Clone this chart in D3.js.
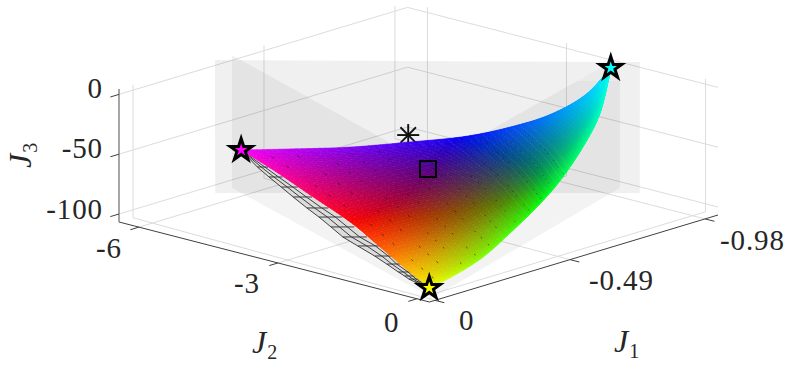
<!DOCTYPE html>
<html><head><meta charset="utf-8"><style>html,body{margin:0;background:#fff}svg{display:block}text{font-family:"Liberation Serif",serif;fill:#262626}</style></head>
<body><script src="https://cdn.jsdelivr.net/npm/d3@7"></script>
<svg id="chart" width="793" height="375"></svg>
<script>
// ---- axes ----
const j1Ticks=[0,-0.49,-0.98], j1Labels=["0","-0.49","-0.98"];
const j2Ticks=[0,-3,-6], j2Labels=["0","-3","-6"];
const j3Ticks=[0,-50,-100], j3Labels=["0","-50","-100"];
// ---- surface boundary (J1, J2, J3) ----
const topJ1=[-0.191,-0.237,-0.307,-0.398,-0.482,-0.574,-0.676,-0.816,-0.989];
const topJ2=[-5.17,-4.36,-3.46,-2.68,-1.98,-1.54,-1.28,-1.35,-1.82];
const topJ3=[-50,-44,-38,-32,-26,-20,-14,-8,-2];
const rightJ1=[-0.002,-0.038,-0.109,-0.217,-0.337,-0.450,-0.615,-0.771,-0.989];
const rightJ2=[0.13,0.48,0.67,0.61,0.47,0.29,-0.20,-0.76,-1.82];
const rightJ3=[-98,-86,-74,-62,-50,-38,-26,-14,-2];
const leftJ1=[-0.191,-0.172,-0.137,-0.102,-0.056,-0.026,-0.002];
const leftJ2=[-5.17,-4.28,-3.26,-2.23,-1.29,-0.56,0.13];
const leftJ3=[-50,-58,-66,-74,-82,-90,-98];
// ---- wire strip below the surface ----
const stripJ3=[-60,-62,-64,-66,-68,-70,-72,-74,-76,-78,-80,-82,-84,-86,-88];
const stripLowJ1=[-0.187,-0.158,-0.130,-0.102,-0.071,-0.049,-0.022,0.006,0.022,0.041,0.056,0.071,0.070,0.067,0.060];
const stripLowJ2=[-4.79,-4.36,-3.92,-3.49,-3.00,-2.60,-2.17,-1.74,-1.31,-0.82,-0.46,-0.11,0.02,0.10,0.19];
const stripUpJ1=[-0.205,-0.182,-0.159,-0.135,-0.108,-0.090,-0.063,-0.036,-0.022,0.008,0.031,0.047,0.051,0.049,0.044];
const stripUpJ2=[-4.66,-4.20,-3.73,-3.27,-2.75,-2.33,-1.90,-1.46,-1.02,-0.59,-0.30,0.05,0.16,0.22,0.30];
// ---- translucent planes ----
const planeA=[[-0.421,-7.10,-10],[-1.140,-2.08,-10],[-0.909,-0.72,-90],[-0.177,-5.66,-90]];
const planeB=[[-0.445,-6.87,-5],[-0.497,-2.79,-60],[0.071,0.57,-95],[-0.006,-4.27,-60]];
const planeC=[[-0.948,-2.31,-15],[-1.021,-1.81,-15],[-0.676,0.24,-60],[0.074,0.59,-98],[-0.498,-2.87,-60]];
const planeCcap=[[-0.948,-2.31,-15],[-1.021,-1.81,-15],[-1.100,-2.27,-5]];
// ---- markers ----
const asteriskPoint=[-0.424,-2.88,-30];
const squarePoint=[-0.316,-1.80,-40];

// ---- projection through d3 scales ----
const uS=d3.scaleLinear().domain([0.02,-1.027]).range([0,1]);
const vS=d3.scaleLinear().domain([0.27,-6.43]).range([0,1]);
const wS=d3.scaleLinear().domain([-106.7,4.5]).range([0,1]);
const xAcrossJ1=d3.scaleLinear().domain([0,1]).range([0,288.5]), yAcrossJ1=d3.scaleLinear().domain([0,1]).range([0,-87]);
const xAcrossJ2=d3.scaleLinear().domain([0,1]).range([0,-310.5]), yAcrossJ2=d3.scaleLinear().domain([0,1]).range([0,-80]);
const lift=d3.scaleLinear().domain([0,1]).range([0,-133]);
const ox=429.5, oy=302, persp=0.03;
const raw=(up,v,w)=>[ox+xAcrossJ1(up)+xAcrossJ2(v), oy+yAcrossJ1(up)+yAcrossJ2(v)+lift(w)];
const warp=(u,v)=>u+persp*v*(1-u);
const P=(a,b,c)=>{const v=vS(b);return raw(warp(uS(a),v),v,wS(c));};

const svg=d3.select("#chart");
const lineGen=d3.line();
const gridCol="#dcdcdc";
const grid=svg.append("g").attr("fill","none").attr("stroke",gridCol).attr("stroke-width",1);
const seg=(g,p,q)=>g.append("path").attr("d",lineGen([p,q]));
j3Ticks.forEach(z=>{const w=wS(z);seg(grid,raw(0,1,w),raw(1,1,w));seg(grid,raw(1,1,w),raw(1,0,w));});
j1Ticks.forEach(a=>{const u=uS(a);seg(grid,raw(warp(u,1),1,0),raw(warp(u,1),1,1));seg(grid,raw(warp(u,0),0,0),raw(warp(u,1),1,0));});
j2Ticks.forEach(b=>{const v=vS(b);seg(grid,raw(1,v,0),raw(1,v,1));seg(grid,raw(0,v,0),raw(1,v,0));});

// translucent planes
const poly=d3.line().curve(d3.curveLinearClosed);
const plane=(pts,op)=>svg.append("path").attr("d",poly(pts.map(p=>P(...p)))).attr("fill","#000").attr("fill-opacity",op);
plane(planeA,0.058);plane(planeB,0.048);plane(planeC,0.048);plane(planeCcap,0.022);

// axes
const ax=svg.append("g").attr("fill","none").attr("stroke","#404040").attr("stroke-width",1);
seg(ax,raw(0,0,0),raw(0,1,0));
seg(ax,raw(0,0,0),raw(1,0,0));
seg(ax,raw(0,1,0),raw(0,1,1)).attr("stroke","#808080").attr("stroke-width",1.4);
const T=.03;
j3Ticks.forEach(z=>{const w=wS(z);seg(ax,raw(0,1,w),raw(-T,1,w));});
j2Ticks.forEach(b=>{const v=vS(b);seg(ax,raw(0,v,0),raw(-T,v,0));});
j1Ticks.forEach(a=>{const u=uS(a);seg(ax,raw(u,0,0),raw(u,-.03,0));});

// tick labels
const tick=(x,y,t,anchor)=>svg.append("text").attr("x",x).attr("y",y).attr("text-anchor",anchor).attr("font-size",29).attr("letter-spacing",.9).text(t);
const j3Pos=[[103,98],[103,158],[103,219]];
j3Labels.forEach((t,i)=>tick(j3Pos[i][0],j3Pos[i][1],t,"end"));
const j2Pos=[[384,332],[234,293],[96,258]];
j2Labels.forEach((t,i)=>tick(j2Pos[i][0],j2Pos[i][1],t,"start"));
const j1Pos=[[459,330],[589,290],[720,250]];
j1Labels.forEach((t,i)=>tick(j1Pos[i][0],j1Pos[i][1],t,"start"));
const axisLabel=(x,y,sub,rot)=>{const t=svg.append("text").attr("transform",`translate(${x},${y}) rotate(${rot})`).attr("font-size",32);
 t.append("tspan").attr("font-style","italic").text("J");
 t.append("tspan").attr("font-size",20).attr("dy",6).attr("dx",1).text(sub);};
axisLabel(614,352,"1",0);axisLabel(252,353,"2",0);axisLabel(31,168,"3",-90);

// asterisk (behind the surface)
const apt=P(...asteriskPoint);
const ast=svg.append("g").attr("stroke","#111").attr("stroke-width",1.9);
d3.range(4).forEach(i=>{const a=i*Math.PI/4,r=11;ast.append("line").attr("x1",apt[0]-r*Math.cos(a)).attr("y1",apt[1]-r*Math.sin(a)).attr("x2",apt[0]+r*Math.cos(a)).attr("y2",apt[1]+r*Math.sin(a));});

// wire strip
const sg=svg.append("g");
const low=stripJ3.map((z,i)=>P(stripLowJ1[i],stripLowJ2[i],z));
const up=stripJ3.map((z,i)=>P(stripUpJ1[i],stripUpJ2[i],z));
const A0=P(leftJ1[0],leftJ2[0],leftJ3[0]);
const C0=P(leftJ1[6],leftJ2[6],leftJ3[6]);
sg.append("path").attr("d",poly([A0,...low,C0,...up.slice().reverse()])).attr("fill","#dcdcdc");
const mix=(p,q,f)=>[p[0]+(q[0]-p[0])*f,p[1]+(q[1]-p[1])*f];
const wire=sg.append("g").attr("fill","none").attr("stroke","#2c2c2c").attr("stroke-width",.9);
[0,.36,.7].forEach(f=>wire.append("path").attr("d",lineGen([A0,...low.map((p,i)=>mix(p,up[i],f)),C0])));
low.forEach((p,i)=>wire.append("path").attr("d",lineGen([p,up[i]])));

// coloured surface: Coons patch over the three boundary arrays (Catmull-Rom through them)
const cr=(arr)=>t=>{const n=arr.length-1,x=Math.min(Math.max(t,0),1)*n,i=Math.min(Math.floor(x),n-1),f=x-i;
 const p0=arr[Math.max(i-1,0)],p1=arr[i],p2=arr[i+1],p3=arr[Math.min(i+2,n)];
 return .5*(2*p1+(p2-p0)*f+(2*p0-5*p1+4*p2-p3)*f*f+(3*p1-p0-3*p2+p3)*f*f*f);};
const edge=(a,b,c)=>{const ea=cr(a),eb=cr(b),ec=cr(c);return t=>[ea(t),eb(t),ec(t)];};
const topE=edge(topJ1,topJ2,topJ3), rightE=edge(rightJ1,rightJ2,rightJ3), leftE=edge(leftJ1,leftJ2,leftJ3);
const pA=leftE(0),pC=leftE(1),pD=topE(1);
const patch=(s,t)=>{const L=leftE(s),Tp=topE(t),R=rightE(t);
 return P(...[0,1,2].map(k=>(1-t)*L[k]+t*pD[k]+(1-s)*Tp[k]+s*R[k]-((1-s)*(1-t)*pA[k]+s*(1-t)*pC[k]+t*pD[k])));};
const clamp=d3.scaleLinear().domain([0,1]).range([0,255]).clamp(true);
const colour=(s,t)=>{const d=t-0.8*t*(1-t)*(1-t)*6.75*s*s*(1-s),a=(1-s)*(1-d),c=s*(1-d);
 const shade=1-0.22*Math.min(1,27*a*c*d);
 return d3.rgb(shade*clamp(1-2*d),shade*clamp(1-2*a),shade*clamp(1-2*c)).formatHex();};
const N=80,M=80,surf=svg.append("g").attr("stroke-width",.6);
for(let j=0;j<M;j++)for(let i=0;i<N;i++){const s0=i/N,s1=(i+1)/N,t0=j/M,t1=(j+1)/M;const col=colour((s0+s1)/2,(t0+t1)/2);
 surf.append("path").attr("d",poly([patch(s0,t0),patch(s1,t0),patch(s1,t1),patch(s0,t1)])).attr("fill",col).attr("stroke",col);}

// surface mesh texture
const pale=svg.append("g").attr("fill","#fff").attr("fill-opacity",.13);
for(let k=1;k<32;k++)for(let j=1;j<36;j++){const p=patch(j/36,k/46);pale.append("rect").attr("x",p[0]).attr("y",p[1]).attr("width",1).attr("height",1);}
const dark=svg.append("g").attr("stroke","#111").attr("stroke-opacity",.6).attr("stroke-width",1);
for(let k=1;k<12;k++)for(let j=1;j<15;j++){if((j*7+k*3)%4===0)continue;const s=j/15,t=k/17;const p=patch(s,t),q=patch(s+.012,t);dark.append("path").attr("d",lineGen([p,q]));}

// square & stars
const sq=P(...squarePoint);
svg.append("rect").attr("x",sq[0]-8).attr("y",sq[1]-8).attr("width",16).attr("height",16).attr("fill","none").attr("stroke","#000").attr("stroke-width",2);
const star=d3.symbol().type(d3.symbolStar).size(150);
[[pA,"#ff00ff"],[pC,"#ffff00"],[pD,"#00ffff"]].forEach(([p,c])=>{const q=P(...p);
 svg.append("path").attr("d",star()).attr("transform",`translate(${q[0]},${q[1]})`).attr("fill",c).attr("stroke","#000").attr("stroke-width",3).attr("stroke-linejoin","miter");});
</script></body></html>
